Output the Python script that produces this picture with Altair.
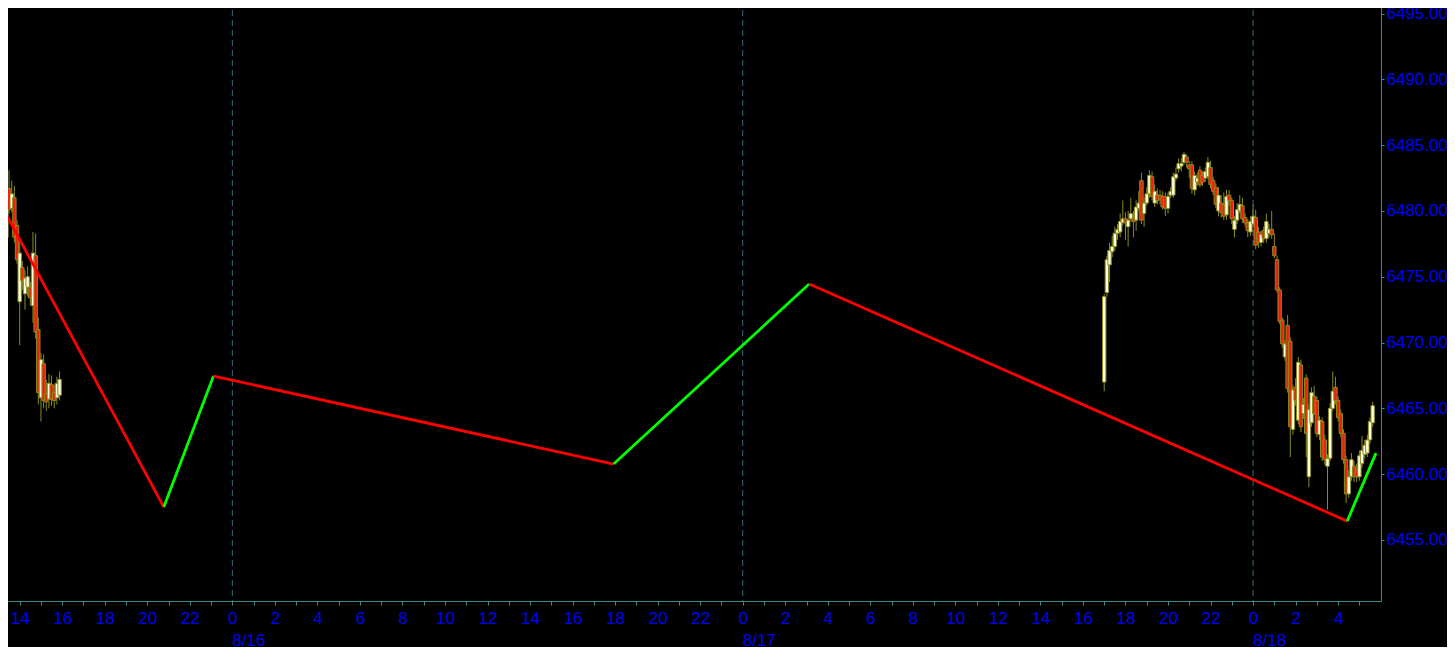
import altair as alt
import pandas as pd

# ---------------- data ----------------
REF = pd.Timestamp("2020-08-16 00:00")

# 8/15 session, 7.5-minute bars starting 13:22:30
s1_start = "2020-08-15 13:22:30"
s1_open = [6478.0, 6481.7, 6480.2, 6481.0, 6478.9, 6473.1, 6475.7, 6473.7, 6474.2, 6474.2,
           6472.8, 6476.6, 6471.0, 6465.8, 6468.4, 6466.1, 6465.7, 6466.8, 6466.2, 6465.8, 6466.0]
s1_high = [6482.7, 6483.1, 6482.3, 6481.9, 6479.3, 6477.6, 6476.2, 6475.5, 6475.8, 6474.6,
           6478.4, 6478.3, 6471.9, 6469.2, 6469.1, 6467.2, 6467.6, 6467.5, 6466.8, 6467.4, 6467.8]
s1_low = [6476.5, 6479.8, 6479.9, 6477.6, 6476.0, 6469.8, 6474.0, 6472.5, 6473.5, 6472.8,
          6471.5, 6470.3, 6465.3, 6464.0, 6465.0, 6464.8, 6465.0, 6465.2, 6465.0, 6465.3, 6465.6]
s1_close = [6480.1, 6480.1, 6481.3, 6478.0, 6476.3, 6476.8, 6474.7, 6474.9, 6475.0, 6473.4,
            6476.8, 6470.8, 6466.2, 6468.7, 6465.6, 6465.5, 6466.9, 6465.7, 6465.6, 6466.9, 6467.2]

# 8/17-8/18 session, 7.5-minute bars starting 17:00
s2_start = "2020-08-17 17:00:00"
s2_open = [6467.0, 6473.8, 6475.9, 6476.9, 6477.3, 6478.3, 6478.4, 6479.1, 6479.4, 6478.8,
           6479.4, 6479.4, 6479.3, 6480.2, 6482.3, 6479.8, 6480.6, 6481.3, 6482.6, 6480.6,
           6481.2, 6481.2, 6481.1, 6481.1, 6480.2, 6481.2, 6481.2, 6482.5, 6483.2, 6483.4,
           6483.7, 6484.1, 6483.5, 6483.5, 6481.6, 6482.2, 6483.1, 6482.7, 6482.5, 6482.6,
           6483.3, 6482.3, 6481.8, 6480.0, 6480.6, 6480.5, 6479.7, 6481.2, 6480.8, 6478.6,
           6479.3, 6480.0, 6480.4, 6479.5, 6479.1, 6478.4, 6479.0, 6479.5, 6478.4, 6477.6,
           6478.5, 6477.9, 6478.3, 6478.6, 6477.3, 6476.3, 6474.0, 6471.7, 6468.9, 6471.3,
           6470.1, 6463.4, 6466.6, 6464.1, 6468.3, 6464.6, 6467.3, 6459.8, 6463.9, 6465.9,
           6465.6, 6463.0, 6464.0, 6462.6, 6460.6, 6461.2, 6465.0, 6466.6, 6465.6, 6464.6,
           6463.1, 6461.1, 6458.5, 6459.8, 6460.6, 6460.3, 6459.8, 6460.8, 6461.5, 6461.6,
           6462.6, 6463.9]
s2_high = [6473.7, 6476.6, 6477.6, 6478.1, 6478.8, 6479.0, 6479.8, 6480.8, 6479.9, 6480.0,
           6481.0, 6480.0, 6480.8, 6481.5, 6482.9, 6481.0, 6481.8, 6483.1, 6483.0, 6482.0,
           6481.7, 6481.6, 6481.5, 6481.4, 6481.4, 6481.8, 6482.9, 6483.3, 6484.0, 6484.0,
           6484.5, 6484.3, 6483.8, 6483.8, 6483.0, 6482.9, 6483.4, 6483.0, 6483.3, 6484.1,
           6483.8, 6482.6, 6482.1, 6481.8, 6481.2, 6481.4, 6481.6, 6481.6, 6481.0, 6479.6,
           6480.6, 6481.2, 6481.0, 6479.8, 6479.4, 6479.6, 6480.5, 6480.1, 6478.8, 6478.5,
           6478.8, 6479.8, 6479.0, 6480.0, 6478.3, 6476.6, 6474.2, 6471.9, 6470.2, 6472.1,
           6470.4, 6466.8, 6467.3, 6468.9, 6468.7, 6465.8, 6467.6, 6465.3, 6466.6, 6466.7,
           6465.9, 6464.4, 6464.3, 6463.0, 6461.5, 6465.4, 6467.8, 6467.4, 6465.9, 6464.9,
           6463.4, 6461.4, 6460.3, 6461.6, 6461.0, 6460.8, 6461.8, 6462.9, 6462.6, 6463.0,
           6464.3, 6465.5]
s2_low = [6466.3, 6473.5, 6474.6, 6476.5, 6477.0, 6477.8, 6478.0, 6478.9, 6477.8, 6477.3,
          6479.2, 6478.0, 6478.5, 6480.0, 6479.0, 6478.8, 6480.4, 6481.0, 6480.8, 6480.3,
          6480.5, 6480.5, 6480.1, 6479.6, 6479.8, 6481.0, 6481.0, 6482.3, 6482.9, 6483.0,
          6483.5, 6483.3, 6482.5, 6481.3, 6481.2, 6481.9, 6481.8, 6481.9, 6482.2, 6482.4,
          6481.7, 6481.2, 6480.2, 6479.6, 6479.5, 6479.3, 6479.3, 6480.4, 6479.0, 6478.0,
          6479.0, 6479.8, 6479.1, 6478.8, 6478.0, 6478.1, 6478.8, 6477.1, 6477.2, 6477.3,
          6477.6, 6477.6, 6478.0, 6477.9, 6476.4, 6473.8, 6471.4, 6469.6, 6468.6, 6466.2,
          6461.3, 6463.0, 6465.2, 6463.8, 6463.2, 6464.2, 6461.3, 6459.0, 6463.6, 6464.5,
          6462.8, 6462.6, 6461.0, 6460.7, 6457.3, 6461.0, 6464.8, 6465.3, 6464.0, 6462.8,
          6460.8, 6457.8, 6458.2, 6459.5, 6459.4, 6459.4, 6459.5, 6460.5, 6461.2, 6461.3,
          6462.3, 6463.6]
s2_close = [6473.5, 6476.3, 6477.0, 6477.3, 6478.3, 6478.6, 6479.2, 6479.4, 6479.1, 6479.3,
            6479.8, 6479.2, 6480.3, 6480.6, 6479.3, 6480.6, 6481.3, 6482.7, 6481.1, 6481.5,
            6480.8, 6480.9, 6480.3, 6480.2, 6481.1, 6481.5, 6482.6, 6482.8, 6483.6, 6483.6,
            6484.3, 6483.7, 6483.2, 6481.7, 6482.7, 6482.5, 6482.0, 6482.2, 6483.0, 6483.7,
            6482.0, 6481.5, 6480.5, 6481.2, 6479.9, 6479.6, 6481.1, 6480.8, 6479.4, 6479.3,
            6480.1, 6480.5, 6479.4, 6479.1, 6478.5, 6479.2, 6479.6, 6477.4, 6477.6, 6478.2,
            6477.9, 6479.2, 6478.6, 6478.2, 6476.6, 6474.0, 6471.6, 6469.9, 6469.9, 6466.5,
            6463.6, 6466.4, 6465.6, 6468.5, 6463.6, 6465.3, 6463.1, 6464.9, 6466.2, 6464.6,
            6463.1, 6464.1, 6461.3, 6461.1, 6461.2, 6465.0, 6466.3, 6465.6, 6464.3, 6463.1,
            6461.1, 6458.5, 6459.8, 6461.1, 6459.8, 6459.8, 6461.4, 6461.8, 6462.2, 6462.6,
            6464.0, 6465.2]

# zigzag pivots
zz_time = ["2020-08-15 13:18:36", "2020-08-15 20:46:40", "2020-08-15 23:06:50",
           "2020-08-16 17:55:40", "2020-08-17 03:07:30", "2020-08-18 04:25:40",
           "2020-08-18 05:46:50"]
zz_price = [6479.9, 6457.5, 6467.45, 6460.77, 6474.45, 6456.43, 6461.6]

# date captions under midnights
date_labels = ["8/16", "8/17", "8/18"]
date_times = ["2020-08-16 00:00", "2020-08-17 00:00", "2020-08-18 00:00"]

y_ticks = [6455, 6460, 6465, 6470, 6475, 6480, 6485, 6490, 6495]

# ---------------- tables ----------------
def hours(ts):
    return (pd.Timestamp(ts) - REF) / pd.Timedelta(hours=1)

rows = []
for start, O, H, L, C in [(s1_start, s1_open, s1_high, s1_low, s1_close),
                          (s2_start, s2_open, s2_high, s2_low, s2_close)]:
    t0 = pd.Timestamp(start)
    for i in range(len(O)):
        t = t0 + pd.Timedelta(minutes=7.5 * i)
        rows.append({"t": hours(t), "o": O[i], "h": H[i], "l": L[i], "c": C[i],
                     "dir": "up" if C[i] >= O[i] else "down"})
candles = pd.DataFrame(rows)

zz_rows = []
for i in range(len(zz_time) - 1):
    d = "up" if zz_price[i + 1] > zz_price[i] else "down"
    for j in (i, i + 1):
        zz_rows.append({"t": hours(zz_time[j]), "p": zz_price[j], "seg": i, "dir": d, "ord": j})
zz = pd.DataFrame(zz_rows)

dates = pd.DataFrame({"t": [hours(t) for t in date_times], "label": date_labels})

# ---------------- chart ----------------
TEAL = "#3C8C8C"
BLUE = "#0000F5"
FONT = "Liberation Sans"

xscale = alt.Scale(domain=[-10.691, 53.781], nice=False, zero=False)
yscale = alt.Scale(domain=[6450.36, 6496.03], nice=False, zero=False)

xaxis = alt.Axis(values=list(range(-10, 54)),
                 labelExpr="datum.value % 2 == 0 ? '' + (((datum.value % 24) + 24) % 24) : ''",
                 labelColor=BLUE, labelFont=FONT, labelFontSize=17, labelPadding=5,
                 tickColor=TEAL, domainColor=TEAL, tickSize=4, grid=False, title=None,
                 labelOverlap=False, labelFlush=False)
yaxis = alt.Axis(orient="right", values=y_ticks, format=".3f",
                 labelColor=BLUE, labelFont=FONT, labelFontSize=17, labelPadding=2,
                 tickColor=TEAL, domainColor=TEAL, tickSize=3, grid=False, title=None,
                 labelOverlap=False, labelFlush=False)

X = alt.X("t:Q", scale=xscale, axis=xaxis)

grid = alt.Chart(dates).mark_rule(color="#2E6E7E", strokeWidth=1, strokeDash=[6, 4]).encode(x=X)

wicks = alt.Chart(candles).mark_rule(color="#8C8C1E", strokeWidth=1).encode(
    x=X,
    y=alt.Y("l:Q", scale=yscale, axis=yaxis),
    y2="h:Q",
)

bodies = alt.Chart(candles).mark_bar(size=3.4, strokeWidth=1, stroke="#8C8C1E").encode(
    x=X,
    y=alt.Y("o:Q", scale=yscale, axis=yaxis),
    y2="c:Q",
    fill=alt.Fill("dir:N", scale=alt.Scale(domain=["up", "down"], range=["#FFFFE0", "#F01E0A"]),
                  legend=None),
)

zig = alt.Chart(zz).mark_line(strokeWidth=2.8, clip=True).encode(
    x=X,
    y=alt.Y("p:Q", scale=yscale, axis=yaxis),
    detail="seg:N",
    order="ord:Q",
    color=alt.Color("dir:N", scale=alt.Scale(domain=["down", "up"], range=["#FF0000", "#00FF00"]),
                    legend=None),
)

date_text = alt.Chart(dates).mark_text(align="left", baseline="alphabetic", font=FONT,
                                       fontSize=17, color=BLUE).encode(
    x=X, y=alt.value(646), text="label:N")

# The page has an 8px margin: shift the view up/left by 8px so the plot
# lines up with the reference frame, and keep the page inside the window.
chart = alt.layer(grid, wicks, bodies, zig, date_text).resolve_scale(
    color="independent", fill="independent"
).properties(
    width=1381, height=601,
    padding={"left": -8, "top": -8, "right": 66, "bottom": 46},
    autosize=alt.AutoSizeParams(type="none"),
    background="#000000",
).configure_view(stroke=None)

chart.save("out.html", embed_options={"renderer": "svg", "actions": False})
